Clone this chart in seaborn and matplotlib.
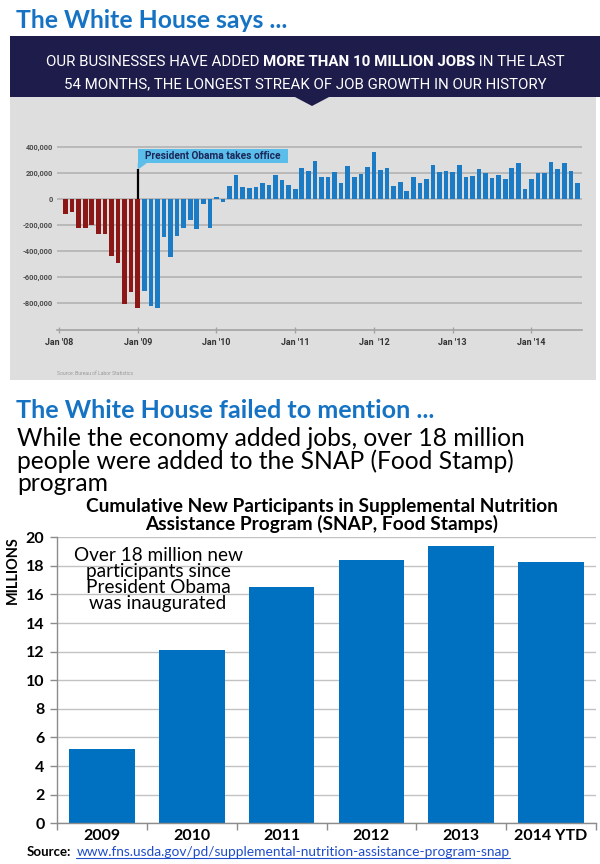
import matplotlib
matplotlib.use("Agg")
import matplotlib.pyplot as plt
from matplotlib.patches import Rectangle, Polygon
from matplotlib.ticker import FixedLocator
import seaborn as sns
import pandas as pd
import numpy as np

# ---------------- data ----------------
# Top chart: monthly change in jobs (thousands), Feb 2008 .. Aug 2014
jobs_before = [-115, -101, -226, -221, -203, -273, -273, -436, -494, -805, -714, -839]
jobs_after = [
    -709, -826, -839, -291, -449, -285, -222, -160, -228, -35, -225,          # 2009 (Feb-Dec)
    16, -26, 103, 187, 95, 87, 95, 122, 108, 183, 149, 110,                   # 2010
    75, 235, 216, 290, 170, 170, 211, 125, 250, 166, 190, 242,                # 2011
    360, 224, 236, 102, 127, 65, 170, 125, 156, 258, 208, 216,                # 2012
    211, 262, 170, 180, 227, 202, 162, 182, 155, 237, 277, 80,                # 2013
    155, 202, 200, 287, 227, 277, 215, 120,                                   # 2014 (Jan-Aug)
]
months = list(pd.date_range("2008-02-01", periods=len(jobs_before) + len(jobs_after), freq="MS").strftime("%b %Y"))
jan_tick_labels = ["Jan '08", "Jan '09", "Jan '10", "Jan '11", "Jan  '12", "Jan '13", "Jan '14"]
jobs_ytick_vals = [400, 200, 0, -200, -400, -600, -800]
jobs_ytick_labels = ["400,000", "200,000", "0", "-200,000", "-400,000", "-600,000", "-800,000"]

# Bottom chart: cumulative new SNAP participants (millions)
snap_years = ["2009", "2010", "2011", "2012", "2013", "2014 YTD"]
snap_values = [5.2, 12.1, 16.5, 18.4, 19.4, 18.3]
snap_yticks = list(range(0, 21, 2))

# ---------------- style ----------------
W, H = 600, 864
sns.set_theme(style="white")
plt.rcParams["font.family"] = ["Lato", "DejaVu Sans"]

BLUE_TITLE = "#1673c4"
NAVY = "#1e1c4b"
PANEL = "#dedede"
RED = "#8c1717"
BLUE_BAR = "#1b7bc4"
SNAP_BLUE = "#0070c0"

fig = plt.figure(figsize=(W / 100, H / 100), dpi=100)
fig.patch.set_facecolor("white")
renderer = fig.canvas.get_renderer()


def fx(x):
    return x / W


def fy(y):
    return 1 - y / H


def ftext(x, y, s, **kw):
    return fig.text(fx(x), fy(y), s, **kw)


def fit(t, target, dim="w"):
    bb = t.get_window_extent(renderer)
    cur = bb.width if dim == "w" else bb.height
    t.set_fontsize(t.get_fontsize() * target / cur)
    return t.get_fontsize()


def mixed_line(xc, y, segs, size, **kw):
    ts = [ftext(0, y, s, fontweight=wt, fontsize=size, ha="left", va="baseline", **kw) for s, wt in segs]
    widths = [t.get_window_extent(renderer).width for t in ts]
    x = xc - sum(widths) / 2
    for t, w in zip(ts, widths):
        t.set_x(fx(x))
        x += w
    return ts, sum(widths)


# ---------------- top section ----------------
fig.add_artist(Rectangle((fx(10), fy(380)), 586 / W, 283 / H, transform=fig.transFigure,
                         facecolor=PANEL, edgecolor="none", zorder=-5))
fig.add_artist(Rectangle((fx(10), fy(97)), 590 / W, 61 / H, transform=fig.transFigure,
                         facecolor=NAVY, edgecolor="none", zorder=-4))
fig.add_artist(Polygon([(fx(294), fy(96.5)), (fx(330), fy(96.5)), (fx(312), fy(106))],
                       closed=True, transform=fig.transFigure, facecolor=NAVY,
                       edgecolor="none", zorder=-4))

t = ftext(16, 28, "The White House says ...", color=BLUE_TITLE, fontweight="bold",
          fontsize=20, ha="left", va="baseline")
fit(t, 272)

# banner lines (mixed weights)
seg1 = [("OUR BUSINESSES HAVE ADDED ", "normal"), ("MORE THAN 10 MILLION JOBS", "bold"),
        (" IN THE LAST", "normal")]
seg2 = [("54 MONTHS, THE LONGEST STREAK OF JOB GROWTH IN OUR HISTORY", "normal")]
tmp, w0 = mixed_line(-1000, 66, seg1, 10, color="white", family=["Roboto", "DejaVu Sans"])
for tt in tmp:
    tt.remove()
bsize = 10 * 515 / w0
mixed_line(305, 66, seg1, bsize, color="white", family=["Roboto", "DejaVu Sans"])
mixed_line(305, 88, seg2, bsize, color="white", family=["Roboto", "DejaVu Sans"])

# jobs chart
ax1 = fig.add_axes([fx(57), fy(330), (582 - 57) / W, (330 - 145) / H])
ax1.set_facecolor("none")
df_jobs = pd.DataFrame({
    "month": months,
    "jobs": jobs_before + jobs_after,
    "period": ["before"] * len(jobs_before) + ["after"] * len(jobs_after),
})
sns.barplot(data=df_jobs, x="month", y="jobs", hue="period",
            palette={"before": RED, "after": BLUE_BAR}, dodge=False, width=0.7,
            saturation=1, legend=False, linewidth=0, ax=ax1)
ax1.set_xlim(-1.3, len(months) - 0.3)
ax1.set_ylim(-1008, 415)
ax1.set_yticks(jobs_ytick_vals)
ax1.set_yticklabels(jobs_ytick_labels)
ax1.set_xticks(list(range(-1, len(months), 12)))
ax1.set_xticklabels(jan_tick_labels)
ax1.set_xlabel("")
ax1.set_ylabel("")
ax1.yaxis.grid(True, color="#b2b2b2", lw=1.2)
ax1.xaxis.grid(False)
ax1.set_axisbelow(True)
for s in ["top", "right", "left"]:
    ax1.spines[s].set_visible(False)
ax1.spines["bottom"].set_color("#a3a3a3")
ax1.spines["bottom"].set_linewidth(1.2)
ax1.tick_params(axis="x", direction="inout", length=5, width=1, color="#a3a3a3",
                labelsize=6.4, pad=3.5, labelcolor="#333333", bottom=True)
ax1.tick_params(axis="y", length=0, pad=3, labelsize=5.3, labelcolor="#4a4a4a")
for lbl in ax1.get_xticklabels() + ax1.get_yticklabels():
    lbl.set_fontweight("bold")
    lbl.set_family(["Roboto", "DejaVu Sans"])

# "President Obama takes office" flag
obama_idx = len(jobs_before) - 1
ax1.add_patch(Rectangle((obama_idx, 275), 22.9, 110, facecolor="#5bbde9", edgecolor="none", zorder=4))
ax1.add_patch(Polygon([(obama_idx, 276), (obama_idx + 1.4, 276), (obama_idx, 225)],
                      closed=True, facecolor="#5bbde9", edgecolor="none", zorder=4))
ax1.vlines(obama_idx, 0, 228, color="black", lw=1.6, zorder=5)
tb = ax1.text(obama_idx + 11.45, 328, "President Obama takes office", ha="center", va="center",
              fontweight="bold", fontsize=7, color="#1c2659", family=["Roboto", "DejaVu Sans"], zorder=6)
fit(tb, 136)

ftext(57, 375, "Source: Bureau of Labor Statistics", fontsize=3.6, color="#9a9a9a",
      ha="left", va="baseline", family=["Roboto", "DejaVu Sans"])

# ---------------- bottom section ----------------
t2 = ftext(16, 418, "The White House failed to mention ...", color=BLUE_TITLE, fontweight="bold",
           fontsize=20, ha="left", va="baseline")
fit(t2, 418)

sub_lines = ["While the economy added jobs, over 18 million",
             "people were added to the SNAP (Food Stamp)",
             "program"]
s1 = ftext(17, 446, sub_lines[0], color="black", fontsize=16, ha="left", va="baseline")
ssz = fit(s1, 511)
ftext(17, 469, sub_lines[1], color="black", fontsize=ssz, ha="left", va="baseline")
ftext(17, 491, sub_lines[2], color="black", fontsize=ssz, ha="left", va="baseline")

c1 = ftext(322, 512, "Cumulative New Participants in Supplemental Nutrition", color="black",
           fontweight="bold", fontsize=12, ha="center", va="baseline")
csz = fit(c1, 470)
ftext(322, 530, "Assistance Program (SNAP, Food Stamps)", color="black", fontweight="bold",
      fontsize=csz, ha="center", va="baseline")

ax2 = fig.add_axes([fx(57), fy(823.3), (596 - 57) / W, (823.3 - 537.3) / H])
ax2.set_facecolor("none")
df_snap = pd.DataFrame({"year": snap_years, "millions": snap_values})
sns.barplot(data=df_snap, x="year", y="millions", color=SNAP_BLUE, saturation=1,
            width=0.73, linewidth=0, ax=ax2)
ax2.set_xlim(-0.5, len(snap_years) - 0.5)
ax2.set_ylim(0, 20)
ax2.set_yticks(snap_yticks)
ax2.set_xlabel("")
ax2.set_ylabel("")
ax2.yaxis.grid(True, color="#c2c2c2", lw=1)
ax2.xaxis.grid(False)
ax2.set_axisbelow(True)
for s in ["top", "right"]:
    ax2.spines[s].set_visible(False)
for s in ["left", "bottom"]:
    ax2.spines[s].set_color("#8c8c8c")
    ax2.spines[s].set_linewidth(1)
ax2.xaxis.set_minor_locator(FixedLocator(np.arange(-0.5, len(snap_years), 1.0)))
ax2.tick_params(axis="y", direction="out", length=5, width=1, color="#8c8c8c",
                labelsize=11.5, pad=4, labelcolor="black", left=True)
ax2.tick_params(axis="x", which="major", length=0, labelsize=11.5, pad=4, labelcolor="black")
ax2.tick_params(axis="x", which="minor", direction="out", length=5, width=1,
                color="#8c8c8c", bottom=True)
for lbl in ax2.get_xticklabels() + ax2.get_yticklabels():
    lbl.set_fontweight("bold")

ym = ftext(12.5, 570, "MILLIONS", rotation=90, fontweight="bold", fontsize=11,
           ha="center", va="center", color="black")
fit(ym, 68, dim="h")

note_lines = ["Over 18 million new", "participants since", "President Obama", "was inaugurated"]
n1 = ftext(158, 561, note_lines[0], fontsize=12, ha="center", va="baseline", color="black")
nsz = fit(n1, 169)
for ln, yb in zip(note_lines[1:], [577, 593, 609]):
    ftext(158, yb, ln, fontsize=nsz, ha="center", va="baseline", color="black")

src = ftext(27, 856, "Source:", fontweight="bold", fontsize=9.5, ha="left", va="baseline", color="black")
sw = src.get_window_extent(renderer)
url = ftext(27 + sw.width + 5, 856,
            "www.fns.usda.gov/pd/supplemental-nutrition-assistance-program-snap",
            fontsize=9.5, ha="left", va="baseline", color="#1f4cc9")
fit(url, 435)
ub = url.get_window_extent(renderer)
fig.add_artist(plt.Line2D([ub.x0 / W, ub.x1 / W], [fy(857.5), fy(857.5)], transform=fig.transFigure,
                          color="#1f4cc9", lw=0.8))

fig.savefig("out.png", dpi=100, facecolor="white")
